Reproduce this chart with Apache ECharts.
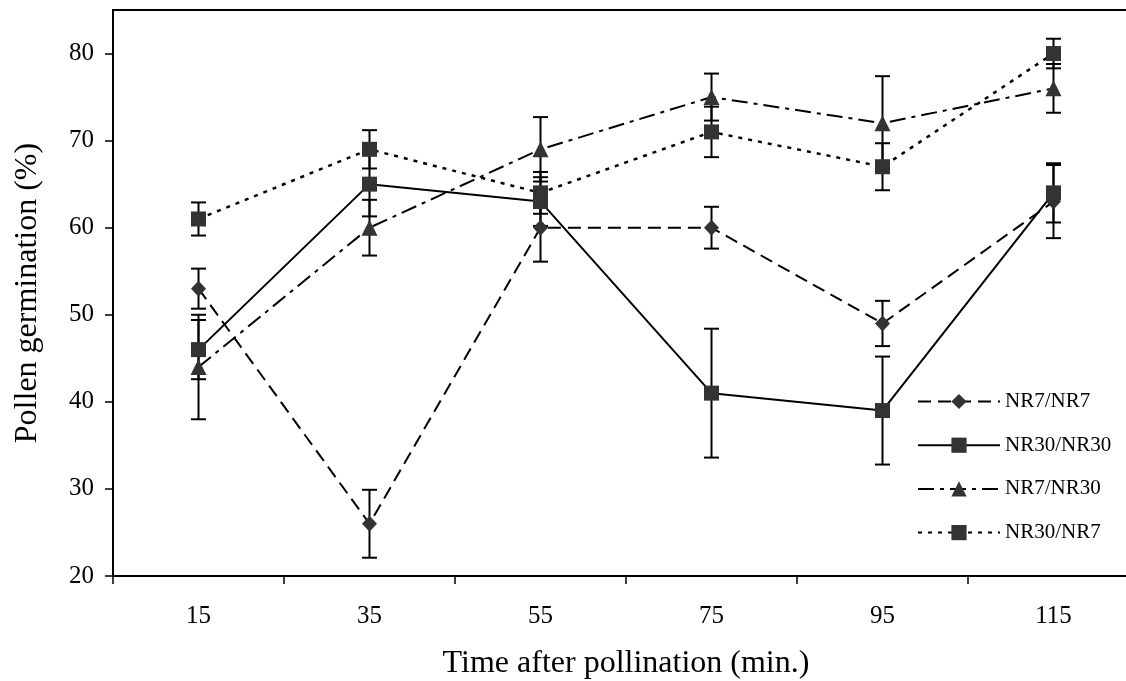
<!DOCTYPE html>
<html>
<head>
<meta charset="utf-8">
<script src="https://cdn.jsdelivr.net/npm/echarts@6/dist/echarts.min.js"></script>
<style>
html,body{margin:0;padding:0;background:#fff;}
#chart{width:1126px;height:681px;}
</style>
</head>
<body>
<div id="chart"></div>
<script>
// ---- data ----
var categories = ['15', '35', '55', '75', '95', '115'];
var yTicks = [20, 30, 40, 50, 60, 70, 80];

var nr7nr7 = [53, 26, 60, 60, 49, 63];
var nr7nr7Err = [2.3, 3.9, 3.9, 2.4, 2.6, 4.2];

var nr30nr30 = [46, 65, 63, 41, 39, 64];
var nr30nr30Err = [3.4, 3.7, 2.8, 7.4, 6.2, 3.4];

var nr7nr30 = [44, 60, 69, 75, 72, 76];
var nr7nr30Err = [6.0, 3.2, 3.7, 2.7, 5.4, 2.8];

var nr30nr7 = [61, 69, 64, 71, 67, 80];
var nr30nr7Err = [1.9, 2.2, 2.4, 2.9, 2.7, 1.7];

var FONT = '"Liberation Serif", "Times New Roman", serif';
var MARK = '#333333';

function errData(vals, errs) {
  return vals.map(function (v, i) { return [i, v - errs[i], v + errs[i]]; });
}

function errSeries(vals, errs) {
  return {
    type: 'custom',
    silent: true,
    z: 1,
    data: errData(vals, errs),
    renderItem: function (params, api) {
      var x = api.value(0);
      var lo = api.coord([x, api.value(1)]);
      var hi = api.coord([x, api.value(2)]);
      var hw = 7.5;
      var st = { stroke: '#000', lineWidth: 2, fill: null };
      return {
        type: 'group',
        children: [
          { type: 'line', shape: { x1: lo[0], y1: lo[1], x2: hi[0], y2: hi[1] }, style: st },
          { type: 'line', shape: { x1: hi[0] - hw, y1: hi[1], x2: hi[0] + hw, y2: hi[1] }, style: st },
          { type: 'line', shape: { x1: lo[0] - hw, y1: lo[1], x2: lo[0] + hw, y2: lo[1] }, style: st }
        ]
      };
    }
  };
}

function lineSeries(name, vals, dash, width, symbol, size) {
  return {
    name: name,
    type: 'line',
    data: vals,
    z: 3,
    symbol: symbol,
    symbolSize: size,
    showAllSymbol: true,
    itemStyle: { color: MARK, borderWidth: 0 },
    lineStyle: { color: '#000', width: width, type: dash },
    emphasis: { disabled: true }
  };
}

var chart = echarts.init(document.getElementById('chart'), null, { renderer: 'canvas' });
chart.setOption({
  animation: false,
  backgroundColor: '#ffffff',
  textStyle: { fontFamily: FONT, color: '#000' },
  grid: {
    left: 113, top: 10, width: 1026, height: 566,
    outerBoundsMode: 'none',
    containLabel: false,
    show: true, borderColor: '#000', borderWidth: 2, backgroundColor: 'transparent'
  },
  legend: {
    orient: 'vertical',
    left: 917,
    top: 391,
    padding: 0,
    itemWidth: 82,
    itemHeight: 19,
    itemGap: 22.7,
    textStyle: { fontFamily: FONT, fontSize: 21, color: '#000' },
    data: ['NR7/NR7', 'NR30/NR30', 'NR7/NR30', 'NR30/NR7']
  },
  xAxis: {
    type: 'category',
    data: categories,
    boundaryGap: true,
    name: 'Time after pollination (min.)',
    nameLocation: 'middle',
    nameGap: 72,
    nameTextStyle: { fontFamily: FONT, fontSize: 32, color: '#000' },
    axisLine: { lineStyle: { color: '#000', width: 2 } },
    axisTick: { show: true, interval: 0, length: 8, lineStyle: { color: '#000', width: 1.5 } },
    axisLabel: { fontFamily: FONT, fontSize: 25, color: '#000', margin: 28, interval: 0 },
    splitLine: { show: false }
  },
  yAxis: {
    type: 'value',
    min: 20,
    max: 85,
    interval: 10,
    name: 'Pollen germination (%)',
    nameLocation: 'middle',
    nameGap: 69,
    nameTextStyle: { fontFamily: FONT, fontSize: 32, color: '#000' },
    axisLine: { show: true, lineStyle: { color: '#000', width: 2 } },
    axisTick: { show: true, length: 8, customValues: yTicks, lineStyle: { color: '#000', width: 1.5 } },
    axisLabel: { fontFamily: FONT, fontSize: 25, color: '#000', margin: 19, customValues: yTicks },
    splitLine: { show: false }
  },
  series: [
    errSeries(nr7nr7, nr7nr7Err),
    errSeries(nr30nr30, nr30nr30Err),
    errSeries(nr7nr30, nr7nr30Err),
    errSeries(nr30nr7, nr30nr7Err),
    lineSeries('NR7/NR7', nr7nr7, [13, 7], 2, 'diamond', [15, 16]),
    lineSeries('NR30/NR30', nr30nr30, 'solid', 2, 'rect', 15),
    lineSeries('NR7/NR30', nr7nr30, [16, 6, 4, 6], 2, 'triangle', 16),
    lineSeries('NR30/NR7', nr30nr7, [4, 6], 2.5, 'rect', 15)
  ]
});
</script>
</body>
</html>
